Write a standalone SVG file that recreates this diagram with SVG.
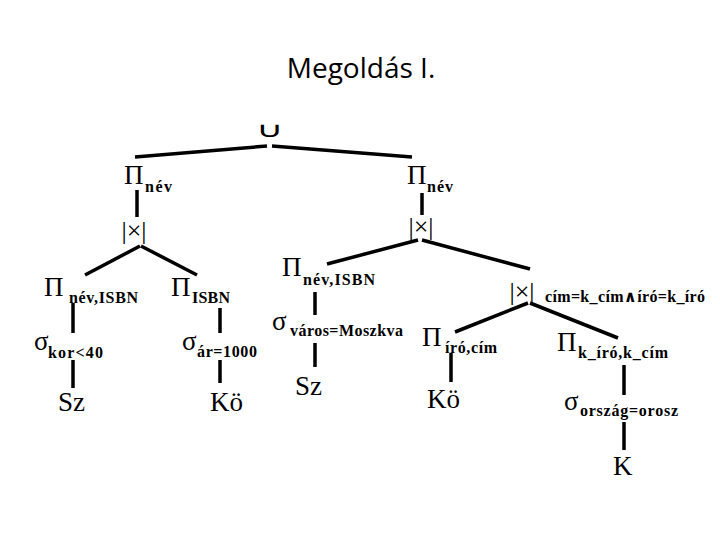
<svg xmlns="http://www.w3.org/2000/svg" width="720" height="540" viewBox="0 0 720 540">
<style>
.t{font-family:"Open Sans","Liberation Sans",sans-serif;font-size:28px;fill:#000}
.g{font-family:"Liberation Serif","DejaVu Serif",serif;font-size:27px;fill:#000}
.b{font-family:"Liberation Serif","DejaVu Serif",serif;font-size:27px;fill:#000}
.s{font-family:"Liberation Serif","DejaVu Serif",serif;font-size:16px;font-weight:bold;fill:#000}
.j{font-family:"Liberation Serif","DejaVu Serif",serif;font-size:26px;fill:#000}
.u{font-family:Inter,"Noto Sans","DejaVu Sans",sans-serif;font-size:30px;font-weight:100;fill:#000}
.e{stroke:#000;stroke-width:3.5;fill:none}
</style>
<rect width="720" height="540" fill="#fff"/>
<text class="t" x="361" y="78" text-anchor="middle">Megoldás I.</text>
<g id="connectors">
<line class="e" x1="267" y1="146" x2="135" y2="157"/>
<line class="e" x1="272" y1="146" x2="412" y2="157"/>
<line class="e" x1="137" y1="190" x2="137" y2="217"/>
<line class="e" x1="422" y1="193" x2="422" y2="215"/>
<line class="e" x1="140" y1="246" x2="85" y2="275"/>
<line class="e" x1="141" y1="246" x2="197" y2="275"/>
<line class="e" x1="73" y1="303" x2="73" y2="333"/>
<line class="e" x1="73" y1="360" x2="73" y2="388"/>
<line class="e" x1="220" y1="308" x2="220" y2="333"/>
<line class="e" x1="220" y1="360" x2="220" y2="383"/>
<line class="e" x1="418" y1="240" x2="327" y2="264"/>
<line class="e" x1="422" y1="240" x2="530" y2="269"/>
<line class="e" x1="315" y1="292" x2="315" y2="315"/>
<line class="e" x1="315" y1="343" x2="315" y2="367"/>
<line class="e" x1="528" y1="303" x2="455" y2="332"/>
<line class="e" x1="530" y1="303" x2="618" y2="338"/>
<line class="e" x1="451" y1="353" x2="451" y2="382"/>
<line class="e" x1="624" y1="365" x2="624" y2="395"/>
<line class="e" x1="624" y1="422" x2="624" y2="450"/>
</g>
<g id="union"><text class="u" transform="translate(270,137) scale(1.25,0.7)" x="0" y="0" text-anchor="middle">∪</text></g>
<g id="proj-nev-l"><text class="g" x="124" y="184">Π</text><text class="s" x="145" y="192" textLength="27">név</text></g>
<g id="proj-nev-r"><text class="g" x="407" y="184">Π</text><text class="s" x="427" y="192" textLength="26">név</text></g>
<g id="join-l"><text class="j" x="134" y="239" text-anchor="middle">|×|</text></g>
<g id="join-r"><text class="j" x="421" y="235" text-anchor="middle">|×|</text></g>
<g id="proj-nevisbn-l"><text class="g" x="44" y="296">Π</text><text class="s" x="69" y="303" textLength="69">név,ISBN</text></g>
<g id="proj-isbn"><text class="g" x="171" y="296">Π</text><text class="s" x="192" y="303" textLength="38">ISBN</text></g>
<g id="sel-kor"><text class="g" x="34" y="350">σ</text><text class="s" x="48" y="358" textLength="55">kor&lt;40</text></g>
<g id="sel-ar"><text class="g" x="182" y="350">σ</text><text class="s" x="197" y="357" textLength="60">ár=1000</text></g>
<g id="sz-l"><text class="b" x="58" y="411">Sz</text></g>
<g id="ko-l"><text class="b" x="210" y="411">Kö</text></g>
<g id="proj-nevisbn-m"><text class="g" x="282" y="276">Π</text><text class="s" x="303" y="285" textLength="72">név,ISBN</text></g>
<g id="sel-varos"><text class="g" x="272" y="330">σ</text><text class="s" x="290" y="336" textLength="113">város=Moszkva</text></g>
<g id="sz-m"><text class="b" x="295" y="395">Sz</text></g>
<g id="join-m"><text class="j" x="522" y="300" text-anchor="middle">|×|</text><text class="s" x="545" y="302" font-size="15" textLength="160">cím=k_cím∧író=k_író</text></g>
<g id="proj-irocim"><text class="g" x="422" y="346">Π</text><text class="s" x="445" y="353" textLength="52">író,cím</text></g>
<g id="ko-r"><text class="b" x="427" y="408">Kö</text></g>
<g id="proj-kirokcim"><text class="g" x="557" y="351">Π</text><text class="s" x="578" y="358" textLength="90">k_író,k_cím</text></g>
<g id="sel-orszag"><text class="g" x="564" y="410">σ</text><text class="s" x="580" y="416" textLength="98">ország=orosz</text></g>
<g id="k"><text class="b" x="613" y="475">K</text></g>
</svg>
